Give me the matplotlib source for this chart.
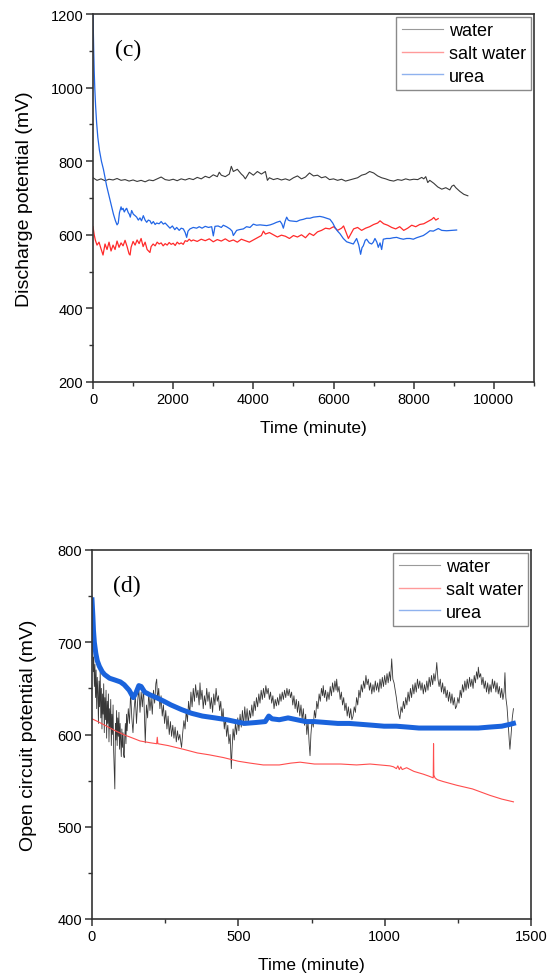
import matplotlib
matplotlib.use("Agg")
import matplotlib.pyplot as plt
from matplotlib.lines import Line2D
from matplotlib.ticker import MultipleLocator

plt.rcParams['font.family'] = ['Liberation Sans', 'DejaVu Sans']

# ---------------- Panel (c): discharge potential ----------------
water_c_t = [0, 100, 200, 300, 400, 500, 600, 700, 800, 900, 1000, 1100, 1200, 1300, 1400, 1500, 1600,
             1700, 1800, 1900, 2000, 2100, 2200, 2300, 2400, 2500, 2600, 2700, 2800, 2900, 3000, 3100,
             3150, 3200, 3300, 3400, 3450, 3500, 3600, 3700, 3750, 3800, 3900, 4000, 4100, 4200, 4300,
             4350, 4400, 4500, 4600, 4700, 4800, 4900, 5000, 5100, 5200, 5300, 5400, 5500, 5600, 5700,
             5800, 5900, 6000, 6100, 6200, 6300, 6400, 6500, 6600, 6700, 6800, 6900, 7000, 7100, 7200,
             7300, 7400, 7500, 7600, 7700, 7800, 7900, 8000, 8100, 8200, 8250, 8300, 8350, 8400, 8500,
             8600, 8700, 8800, 8900, 8950, 9000, 9050, 9150, 9250, 9350]
water_c_v = [755, 748, 752, 747, 751, 749, 753, 748, 750, 746, 749, 745, 748, 744, 749, 747, 752,
             757, 750, 748, 751, 747, 752, 749, 753, 750, 756, 752, 759, 755, 763, 758,
             770, 762, 758, 765, 786, 772, 778, 765, 760, 752, 770, 762, 772, 765, 772,
             748, 755, 750, 753, 749, 752, 748, 755, 760, 752, 757, 768, 760, 762, 755,
             758, 750, 752, 748, 751, 746, 749, 752, 755, 762, 765, 772, 768, 760, 755,
             752, 748, 746, 750, 748, 752, 749, 751, 750, 756, 752, 758, 742, 748, 740,
             730, 724, 728, 722, 732, 735, 728, 718, 710, 706]

salt_c_t = [0, 30, 60, 100, 150, 200, 250, 300, 350, 400, 450, 500, 550, 600, 650, 700, 750, 800, 850,
            900, 925, 950, 1000, 1050, 1100, 1150, 1200, 1250, 1300, 1350, 1420, 1450, 1500, 1550, 1600,
            1650, 1700, 1750, 1800, 1850, 1900, 1950, 2000, 2050, 2100, 2150, 2200, 2250, 2300, 2350,
            2400, 2450, 2500, 2600, 2700, 2800, 2900, 3000, 3100, 3200, 3300, 3400, 3500, 3600, 3700,
            3800, 3900, 4000, 4100, 4200, 4250, 4300, 4400, 4500, 4600, 4700, 4800, 4900, 5000, 5100,
            5200, 5300, 5400, 5500, 5600, 5700, 5800, 5900, 6000, 6100, 6200, 6250, 6300, 6370, 6420,
            6500, 6600, 6700, 6800, 6900, 7000, 7100, 7160, 7250, 7350, 7450, 7550, 7650, 7750, 7850,
            7950, 8050, 8150, 8250, 8350, 8450, 8500, 8550, 8610]
salt_c_v = [622, 600, 585, 572, 580, 562, 545, 575, 560, 580, 556, 572, 560, 583, 566, 578, 570, 585, 568,
            548, 545, 566, 582, 572, 586, 576, 590, 568, 580, 560, 552, 568, 575, 570, 580,
            575, 578, 570, 576, 572, 579, 574, 577, 571, 580, 575, 578, 574, 584, 582,
            588, 583, 586, 582, 588, 584, 589, 581, 587, 583, 589, 582, 586, 580, 588,
            584, 580, 586, 592, 598, 610, 602, 606, 600, 594, 599, 596, 590, 598, 594,
            600, 592, 604, 598, 608, 612, 618, 616, 622, 612, 618, 624, 610, 590, 600,
            616, 620, 612, 618, 622, 628, 632, 638, 630, 626, 620, 616, 622, 612, 618,
            626, 622, 628, 630, 636, 642, 647, 640, 644]

urea_c_t = [0, 8, 18, 30, 44, 65, 90, 120, 160, 210, 260, 340, 420, 510, 560, 600, 630, 660, 700, 720,
            750, 780, 820, 840, 880, 906, 930, 964, 1006, 1050, 1089, 1130, 1172, 1210, 1255, 1300,
            1339, 1380, 1422, 1460, 1505, 1550, 1588, 1650, 1700, 1754, 1800, 1850, 1920, 1980, 2040,
            2087, 2150, 2200, 2253, 2300, 2336, 2370, 2419, 2500, 2585, 2650, 2720, 2800, 2880, 2960,
            3001, 3043, 3120, 3200, 3250, 3330, 3417, 3470, 3500, 3540, 3583, 3650, 3750, 3830, 3916,
            3999, 4080, 4165, 4250, 4332, 4420, 4498, 4580, 4665, 4710, 4748, 4790, 4831, 4870, 4913,
            5000, 5080, 5160, 5246, 5330, 5412, 5500, 5578, 5660, 5745, 5830, 5911, 5980, 6036, 6100,
            6160, 6243, 6327, 6410, 6493, 6576, 6630, 6675, 6710, 6742, 6790, 6825, 6890, 6950, 6991,
            7033, 7080, 7116, 7160, 7200, 7241, 7324, 7407, 7490, 7574, 7657, 7740, 7823, 7906, 7989,
            8072, 8156, 8239, 8322, 8405, 8488, 8560, 8613, 8700, 8821, 8950, 9070]
urea_c_v = [1200, 1150, 1100, 1045, 1000, 950, 905, 865, 830, 800, 778, 733, 697, 656, 638, 627, 632, 660, 676, 668,
            672, 662, 670, 672, 660, 656, 648, 666, 656, 652, 648, 640, 646, 638, 652, 640,
            634, 640, 638, 630, 636, 628, 632, 630, 636, 629, 632, 626, 618, 624, 614,
            620, 612, 618, 616, 606, 593, 610, 616, 620, 618, 622, 618, 623, 620, 622,
            597, 623, 624, 620, 626, 622, 616, 610, 598, 605, 612, 614, 616, 622, 620,
            629, 626, 627, 626, 625, 627, 630, 634, 637, 630, 618, 636, 648, 640, 638,
            637, 636, 640, 642, 645, 645, 648, 649, 650, 648, 645, 642, 632, 620, 610,
            603, 590, 581, 578, 575, 590, 572, 547, 565, 570, 585, 588, 578, 575, 580,
            590, 580, 566, 578, 560, 588, 590, 590, 592, 593, 590, 588, 590, 590, 588,
            592, 595, 598, 604, 611, 610, 614, 617, 612, 611, 612, 613]

# ---------------- Panel (d): open circuit potential ----------------
water_d_t = [0, 2, 4, 6, 8, 10, 12, 14, 16, 18, 20, 22, 24, 26, 28, 30, 32, 34, 36, 38, 40, 42, 44, 46, 48,
             50, 52, 54, 56, 58, 60, 62, 64, 66, 68, 70, 72, 74, 76, 78, 80, 82, 84, 86, 88, 90, 92, 94,
             96, 98, 100, 102, 104, 106, 108, 110, 112, 114, 116, 118, 120,
             124, 128, 132, 136, 140, 144, 148, 152, 156, 160, 164, 168, 172, 176, 180, 182, 186, 190,
             194, 198, 202, 206, 210, 214, 218, 221, 224, 228, 232, 236, 240, 244, 248, 252, 256, 260,
             264, 268, 272, 276, 280, 284, 288, 292, 296, 300, 304, 306, 310, 314, 318, 322, 326, 330,
             334, 338, 342, 346, 350, 354, 358, 362, 366, 369, 372, 376, 380, 384, 388, 392, 396, 400,
             404, 408, 412, 416, 420, 424, 428, 432, 436, 440, 444, 448, 452, 456, 460, 464, 468, 472,
             476, 478, 482, 486, 490, 494, 498, 502, 506, 510, 514, 518, 522, 526, 530, 534, 538, 542,
             546, 550, 554, 558, 562, 566, 570, 574, 578, 582, 586, 590, 594, 598, 602, 606, 610, 614,
             618, 622, 626, 630, 634, 638, 642, 646, 650, 654, 658, 662, 666, 670, 674, 678, 682, 686,
             690, 694, 698, 702, 706, 710, 714, 718, 722, 726, 730, 734, 738, 742, 745, 748, 752, 756,
             760, 764, 768, 772, 776, 780, 784, 788, 790, 794, 798, 802, 806, 810, 814, 818, 822, 826,
             830, 834, 836, 840, 844, 848, 852, 856, 860, 864, 868, 872, 876, 880, 884, 888, 892, 896,
             900, 904, 908, 912, 916, 920, 924, 928, 932, 936, 940, 944, 948, 952, 956, 960, 964, 968,
             972, 976, 980, 984, 988, 992, 996, 1000, 1004, 1008, 1012, 1016, 1020, 1024, 1028, 1032,
             1036, 1040, 1044, 1048, 1052, 1056, 1060, 1064, 1068, 1072, 1076, 1080, 1084, 1088, 1092,
             1096, 1100, 1104, 1108, 1112, 1116, 1120, 1124, 1128, 1132, 1136, 1140, 1144, 1148, 1152,
             1156, 1160, 1164, 1168, 1172, 1176, 1178, 1182, 1186, 1190, 1194, 1198, 1202, 1206, 1210,
             1214, 1218, 1222, 1226, 1230, 1234, 1238, 1242, 1246, 1250, 1254, 1258, 1262, 1266, 1270,
             1274, 1278, 1282, 1286, 1290, 1294, 1298, 1302, 1306, 1310, 1314, 1318, 1320, 1324, 1328,
             1332, 1336, 1340, 1344, 1348, 1352, 1356, 1360, 1364, 1368, 1372, 1376, 1380, 1384, 1388,
             1392, 1396, 1400, 1404, 1408, 1411, 1414, 1418, 1422, 1426, 1428, 1432, 1436, 1440]
water_d_v = [728, 695, 668, 684, 652, 676, 640, 670, 628, 662, 645, 612, 658, 630, 668, 618, 650, 606, 644, 622,
             655, 602, 640, 616, 648, 596, 636, 612, 644, 592, 628, 606, 638, 588, 622, 600, 632, 582, 560,
             541, 612, 594, 626, 588, 618, 598, 624, 584, 612, 594, 576, 606, 586, 602, 578, 575, 598, 612,
             590, 622, 604,
             628, 612, 646, 618, 602, 628, 642, 612, 636, 650, 624, 646, 630, 652, 612, 591, 632, 618,
             646, 626, 640, 622, 648, 634, 655, 660, 638, 650, 628, 642, 620, 632, 612, 626, 606, 620,
             600, 614, 598, 610, 596, 608, 592, 604, 594, 600, 590, 586, 602, 615, 606, 626, 614, 636,
             622, 646, 630, 650, 636, 654, 640, 648, 632, 656, 638, 648, 628, 642, 632, 650, 636, 646,
             628, 640, 624, 644, 632, 650, 636, 642, 626, 636, 615, 628, 606, 618, 598, 610, 590, 600,
             563, 580, 606, 594, 612, 600, 618, 604, 622, 608, 626, 610, 630, 614, 628, 612, 626, 618,
             632, 620, 636, 626, 640, 630, 644, 634, 648, 638, 650, 640, 653, 644, 650, 638, 646, 634,
             642, 628, 638, 631, 640, 632, 644, 636, 646, 638, 648, 640, 650, 642, 649, 640, 646, 632,
             642, 628, 638, 624, 636, 620, 632, 616, 628, 610, 622, 600, 614, 590, 577, 600, 616, 608,
             626, 618, 636, 628, 644, 636, 650, 642, 653, 640, 648, 636, 646, 638, 652, 642, 656, 646,
             658, 648, 660, 646, 652, 638, 646, 632, 640, 626, 634, 620, 630, 618, 628, 616, 620, 630,
             624, 640, 632, 648, 640, 654, 646, 658, 650, 664, 654, 660, 648, 656, 644, 654, 646, 658,
             648, 656, 646, 660, 650, 662, 652, 664, 654, 666, 656, 668, 658, 682, 660, 656,
             648, 640, 630, 622, 617, 630, 624, 636, 628, 640, 632, 646, 636, 650, 640,
             654, 644, 656, 646, 660, 650, 658, 648, 656, 644, 654, 646, 658, 648, 662,
             652, 664, 654, 666, 658, 670, 678, 660, 652, 660, 646, 656, 644, 652, 640,
             648, 636, 646, 634, 644, 632, 640, 628, 631, 640, 634, 648, 640, 654, 646,
             658, 648, 660, 650, 662, 652, 660, 650, 664, 656, 668, 660, 673, 662, 666,
             654, 662, 650, 658, 646, 656, 644, 654, 646, 660, 650, 658, 646, 656, 644,
             652, 640, 650, 638, 646, 667, 640, 630, 612, 592, 584, 600, 618, 628]

salt_d_t = [0, 20, 50, 80, 107, 140, 164, 200, 221, 223, 225, 260, 312, 360, 400, 449, 500, 540, 585, 640,
            680, 711, 760, 800, 850, 904, 950, 1018, 1030, 1040, 1045, 1050, 1055, 1060, 1075, 1100, 1132,
            1150, 1166, 1167, 1168, 1172, 1180, 1200, 1246, 1300, 1360, 1400, 1440]
salt_d_v = [617, 614, 609, 604, 600, 596, 593, 591, 590, 597, 590, 588, 584, 580, 578, 575, 571, 569, 567, 567,
            569, 570, 568, 568, 568, 567, 568, 566, 565, 563, 566, 562, 565, 562, 564, 560, 557,
            555, 553, 590, 556, 553, 551, 549, 545, 541, 534, 530, 527]

urea_d_t = [0, 3, 5, 8, 13, 18, 25, 35, 43, 60, 79, 97, 110, 127, 141, 150, 160, 168, 180, 198, 220, 246, 270,
            306, 340, 377, 420, 461, 490, 521, 560, 592, 600, 604, 615, 640, 670, 700, 730, 760, 800, 840,
            879, 920, 960, 998, 1040, 1080, 1117, 1160, 1200, 1237, 1280, 1320, 1357, 1400, 1428, 1440]
urea_d_v = [746, 728, 713, 700, 688, 680, 674, 668, 665, 661, 659, 657, 654, 648, 640, 645, 653, 652, 646, 643,
            640, 636, 632, 627, 623, 620, 618, 616, 614, 612, 613, 614, 618, 620, 617, 616, 618, 616, 614,
            614, 613, 612, 612, 611, 610, 609, 609, 608, 607, 607, 607, 607, 607, 607, 608, 609, 611, 612]

labels = ["water", "salt water", "urea"]

W, H = 548, 978
fig = plt.figure(figsize=(W / 100, H / 100), dpi=100)

def px_axes(l, t, r, b):
    return fig.add_axes([l / W, 1 - b / H, (r - l) / W, (b - t) / H])

axc = px_axes(93, 15, 534, 383)
axd = px_axes(92, 551, 531, 920)

axc.plot(water_c_t, water_c_v, color='#3a3a3a', lw=0.8)
axc.plot(salt_c_t, salt_c_v, color='#ff2a2a', lw=0.9)
axc.plot(urea_c_t, urea_c_v, color='#2266e6', lw=0.9)

axd.plot(water_d_t, water_d_v, color='#383838', lw=0.6)
axd.plot(salt_d_t, salt_d_v, color='#ff4d4d', lw=0.8)
axd.plot(urea_d_t, urea_d_v, color='#1a63dc', lw=3.6, solid_joinstyle='round')

axc.set_xlim(0, 11000)
axc.set_ylim(200, 1200)
axc.xaxis.set_major_locator(MultipleLocator(2000))
axc.xaxis.set_minor_locator(MultipleLocator(1000))
axc.yaxis.set_major_locator(MultipleLocator(200))
axc.yaxis.set_minor_locator(MultipleLocator(100))

axd.set_xlim(0, 1500)
axd.set_ylim(400, 800)
axd.xaxis.set_major_locator(MultipleLocator(500))
axd.xaxis.set_minor_locator(MultipleLocator(250))
axd.yaxis.set_major_locator(MultipleLocator(100))
axd.yaxis.set_minor_locator(MultipleLocator(50))

handles = [Line2D([], [], color='#9a9a9a', lw=0.8),
           Line2D([], [], color='#ff9a9a', lw=1.0),
           Line2D([], [], color='#8fb2ee', lw=1.0)]

for ax, panel, ylabel, ylx in [(axc, '(c)', 'Discharge potential (mV)', -0.137),
                               (axd, '(d)', 'Open circuit potential (mV)', -0.126)]:
    for s in ax.spines.values():
        s.set_linewidth(1.2)
        s.set_color('#333333')
    ax.tick_params(which='major', direction='out', length=5, width=1.1, color='#333333',
                   labelsize=10.5, pad=2, top=False, right=False)
    ax.tick_params(which='minor', direction='out', length=3, width=1.0, color='#333333',
                   top=False, right=False)
    ax.set_xlabel('Time (minute)', fontsize=12.5)
    ax.xaxis.set_label_coords(0.5, -0.102)
    ax.set_ylabel(ylabel, fontsize=14)
    ax.yaxis.set_label_coords(ylx, 0.5)
    ax.text(0.08, 0.905, panel, transform=ax.transAxes, fontsize=17,
            family='Liberation Serif', ha='center', va='center')
    leg = ax.legend(handles, labels, loc='upper right', bbox_to_anchor=(1.0, 1.0),
                    borderaxespad=0.15, fontsize=13, frameon=True, fancybox=False,
                    edgecolor='#8a8a8a', framealpha=1, handlelength=2.3, handletextpad=0.3,
                    labelspacing=0.32, borderpad=0.3)
    leg.get_frame().set_linewidth(1.0)

fig.savefig('out.png', dpi=100)
